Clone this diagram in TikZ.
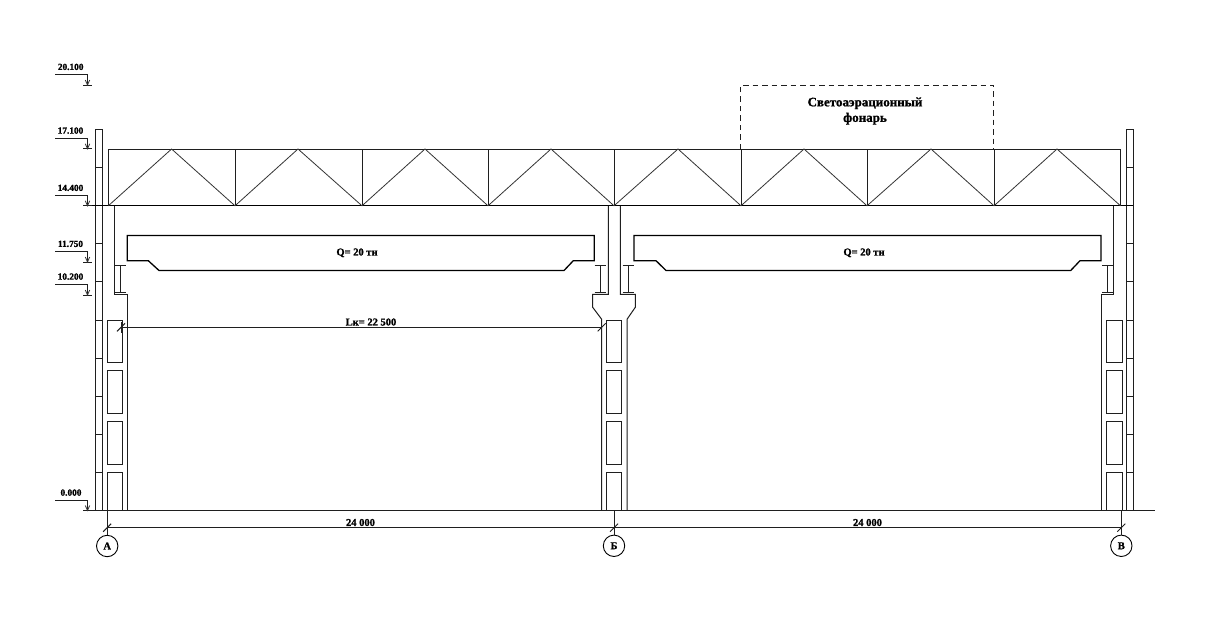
\documentclass[tikz,border=0pt]{standalone}
\usepackage{fontspec}
\setmainfont[BoldFeatures={FakeBold=1.2}]{Liberation Serif}
\tikzset{
  ln/.style={line width=1pt,black!88},
  thin ln/.style={line width=0.8pt,black!80},
  heavy/.style={line width=1.3pt,black},
  lbl/.style={font=\bfseries\fontsize{10.5}{10.5}\selectfont,inner sep=0pt,text=black},
  lvl/.style={font=\bfseries\fontsize{9.3}{9.3}\selectfont,inner sep=0pt,text=black},
  big/.style={font=\bfseries\fontsize{13}{15.5}\selectfont,inner sep=0pt,align=center,text=black},
  axis/.style={circle,draw,line width=0.9pt,minimum size=21.4pt,inner sep=0pt,font=\bfseries\fontsize{10.5}{10.5}\selectfont},
}
\newcommand{\levelmark}[4]{% text, text x, leader y, tick y
  \draw[ln] (55,#3) -- (87.5,#3) -- (87.5,#4);
  \draw[ln] (83,#4) -- (92,#4);
  \draw[thin ln] (85.3,#4-5) -- (87.5,#4) -- (89.7,#4-5);
  \node[lvl] at (#2,#3-7.4) {#1};
}
\newcommand{\slashtick}[2]{\draw[ln] (#1-4,#2+4) -- (#1+4,#2-4);}
\begin{document}
\begin{tikzpicture}[x=1pt,y=-1pt]
\useasboundingbox (0,0) rectangle (1209,618);
\fill[white] (0,0) rectangle (1209,618);

% level marks
\levelmark{20.100}{70.7}{74.3}{85}
\levelmark{17.100}{70.5}{138}{148.8}
\levelmark{14.400}{70.5}{195.3}{205.8}
\levelmark{11.750}{70.5}{251.3}{262}
\levelmark{10.200}{70.5}{284}{295}
\levelmark{0.000}{71}{500}{510.5}

% ground
\draw[ln] (92,510.5) -- (1154.7,510.5);

% wall panels
\foreach \xa/\xb in {95.7/102,1126.7/1133}{
  \draw[ln] (\xa,510.5) -- (\xa,129.5) -- (\xb,129.5) -- (\xb,510.5);
  \foreach \yy in {167.7,243.7,281.7,320,358,396,434,472.5}
    \draw[ln] (\xa,\yy) -- (\xb,\yy);
}

% trusses
\draw[heavy] (92,205.8) -- (1133,205.8);
\draw[ln] (108.3,149) -- (1120.5,149);
\foreach \xx in {108.3,235,362,488,614,741,867,994,1120.5}
  \draw[ln] (\xx,149) -- (\xx,205.8);
\foreach \xa/\xm/\xb in {108.3/171.6/235,235/298/362,362/425/488,488/551/614,614/678/741,741/804/867,867/931/994,994/1057/1120.5}
  \draw[thin ln] (\xa,205.8) -- (\xm,149) -- (\xb,205.8);

% skylight
\draw[ln,dash pattern=on 5.5pt off 4pt] (740.5,149) -- (740.5,85) -- (993.5,85) -- (993.5,149);
\node[big] (skylight) at (865,111) {Светоаэрационный\\фонарь};

% column A
\draw[ln] (114.4,205.8) -- (114.4,294) -- (127.4,294) -- (127.4,510.5);
% column B (middle)
\draw[ln] (608.3,205.8) -- (608.3,294.3) -- (592.7,294.3) -- (592.7,307.3) -- (601.7,319.3) -- (601.7,510.5);
\draw[ln] (620.3,205.8) -- (620.3,294.3) -- (635.3,294.3) -- (635.3,307.3) -- (627,319.3) -- (627,510.5);
% column V
\draw[ln] (1113.7,205.8) -- (1113.7,294) -- (1101.3,294) -- (1101.3,510.5);

% column openings
\foreach \xa/\xb in {107/122.3,606.8/621.8,1106.7/1122}{
  \draw[ln] (\xa,320) rectangle (\xb,362.4);
  \draw[ln] (\xa,370.7) rectangle (\xb,413);
  \draw[ln] (\xa,421.5) rectangle (\xb,464);
  \draw[ln] (\xa,510.5) -- (\xa,472.5) -- (\xb,472.5) -- (\xb,510.5);
}

% crane rails
\foreach \xx in {120.7,600.3,628.3,1107.7}{
  \draw[ln] (\xx,265) -- (\xx,292.7);
  \draw[ln] (\xx-5.6,265) -- (\xx+5.6,265);
  \draw[ln] (\xx-5.6,292.7) -- (\xx+5.6,292.7);
}

% cranes
\draw[heavy] (159,270.5) -- (148.3,260.7) -- (127.3,260.7) -- (127.3,235.5) -- (594.3,235.5) -- (594.3,260.7) -- (573.3,260.7) -- (564,270.5) -- cycle;
\draw[heavy] (666,270.5) -- (656,260.7) -- (634,260.7) -- (634,235.5) -- (1101,235.5) -- (1101,260.7) -- (1080,260.7) -- (1070.7,270.5) -- cycle;
\node[lbl] (qa) at (357,252.8) {Q= 20 тн};
\node[lbl] (qb) at (864,252.8) {Q= 20 тн};

% span of crane
\coordinate (la) at (121,327.3);
\coordinate (lb) at (601.7,327.3);
\draw[ln] (la) -- (lb);
\draw[ln] (121,322) -- (121,333);
\draw[ln] (601.7,322) -- (601.7,333);
\slashtick{121}{327.3}
\slashtick{601.7}{327.3}
\node[lbl] (lk) at (371,322) {Lк= 22 500};

% axes
\node[axis] (axa) at (107.2,546) {А};
\node[axis] (axb) at (614,545.8) {Б};
\node[axis] (axv) at (1121.3,545.8) {В};
\coordinate (ga) at (107.2,510.5);
\coordinate (gb) at (614,510.5);
\coordinate (gv) at (1121.3,510.5);
\draw[ln] (ga) -- (axa);
\draw[ln] (gb) -- (axb);
\draw[ln] (gv) -- (axv);

% main dimensions
\draw[ln] (107.2,527.7) -- (1121.3,527.7);
\slashtick{107.2}{527.7}
\slashtick{614}{527.7}
\slashtick{1121.3}{527.7}
\node[lbl] (da) at (360.5,522.5) {24 000};
\node[lbl] (db) at (867.5,522.5) {24 000};
\end{tikzpicture}
\end{document}
